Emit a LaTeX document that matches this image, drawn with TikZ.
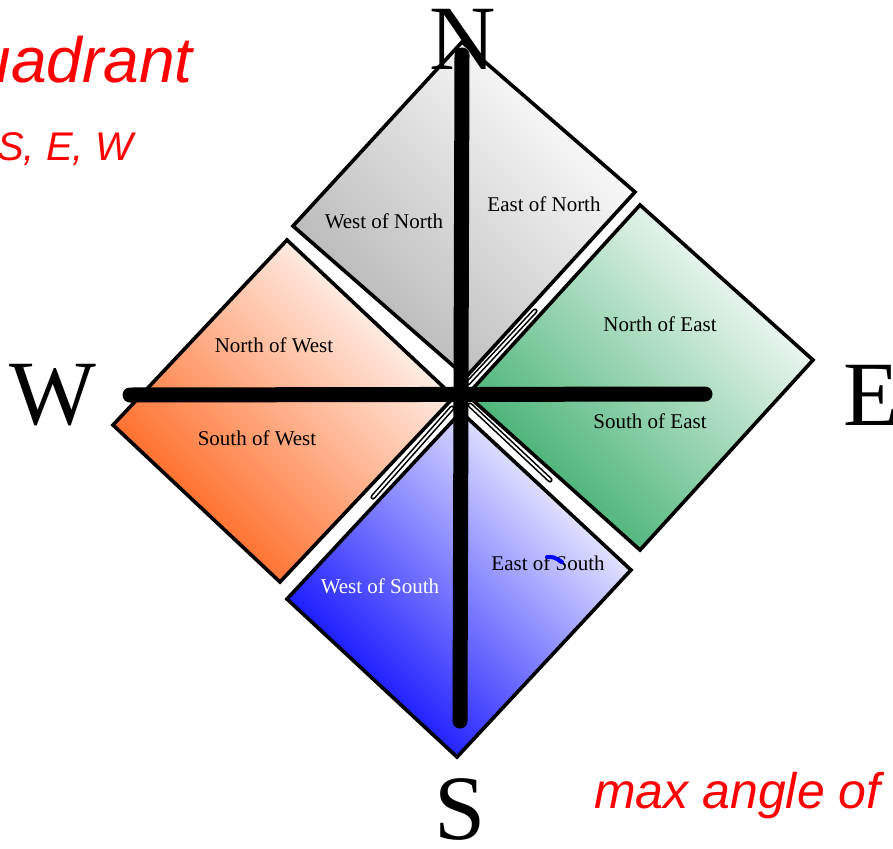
\documentclass[tikz,border=0pt]{standalone}
\usepackage{fontspec}
\setmainfont{Liberation Serif}
\newfontfamily\notefont{Liberation Sans}
\definecolor{eastgreen}{RGB}{55,172,105}
\definecolor{westorange}{RGB}{255,95,20}
\definecolor{northgray}{RGB}{180,180,180}

\begin{document}
\begin{tikzpicture}[x=1pt, y=1pt, line cap=round, line join=miter]
\tikzset{
  quad/.style={draw, line width=3.6pt, top color=white, bottom color=#1, shading angle=-45},
  lbl/.style={font=\fontsize{21}{24}\selectfont, text=black, inner sep=0pt},
  compass/.style={font=\fontsize{92}{96}\selectfont, inner sep=0pt},
  note/.style={text=red, inner sep=0pt},
  gapline/.style={line width=1.6pt, double=white, double distance=2pt}
}
\useasboundingbox (0,0) rectangle (893,-848);

% the four quadrants
\draw[quad=northgray] (462,-42) -- (635,-192) -- (466,-377) -- (293,-226) -- cycle;
\draw[quad=eastgreen] (640,-205) -- (813,-360) -- (640,-550) -- (467,-395) -- cycle;
\draw[quad=westorange] (287,-240) -- (454,-397) -- (280,-582) -- (113,-425) -- cycle;
\draw[quad=blue] (461,-412) -- (631,-570) -- (457,-757) -- (287,-599) -- cycle;

% thin double lines in the gaps
\draw[gapline] (468,-383) -- (535,-311);
\draw[gapline] (470,-405) -- (550,-480);
\draw[gapline] (452,-408) -- (373,-497);

% labels
\node[lbl] (wn) at (384,-221) {West of North};
\node[lbl] (en) at (544,-204) {East of North};
\node[lbl] (nw) at (274,-345) {North of West};
\node[lbl] (sw) at (257,-438) {South of West};
\node[lbl] (ne) at (660,-324) {North of East};
\node[lbl] (se) at (650,-421) {South of East};
\node[lbl, text=white] (ws) at (380,-586) {West of South};
\node[lbl] (es) at (548,-563) {East of South};
\draw[blue, line width=4pt] (547,-557) .. controls (554,-557) .. (562,-562);

% axes
\coordinate (ntip) at (462,-55);
\coordinate (stip) at (460,-721);
\coordinate (wtip) at (130,-395);
\coordinate (etip) at (705,-394);
\draw[line width=15pt] (ntip) -- (stip);
\draw[line width=15pt] (wtip) -- (etip);

\node[compass] (north) at (463,-39) {N};
\node[compass] (south) at (460,-809) {S};
\node[compass] (west) at (53,-395) {W};
\node[compass, anchor=west] (east) at (843,-395) {E};

% red notes
\node[note, anchor=base east, font=\notefont\itshape\fontsize{64}{70}\selectfont] (quadtxt) at (193,-83) {uadrant};
\node[note, anchor=base east, font=\notefont\itshape\fontsize{40}{44}\selectfont] (dirtxt) at (133,-160) {S, E, W};
\node[note, anchor=base west, font=\notefont\itshape\fontsize{50}{54}\selectfont] (maxtxt) at (594,-808) {max angle of};
\end{tikzpicture}
\end{document}
